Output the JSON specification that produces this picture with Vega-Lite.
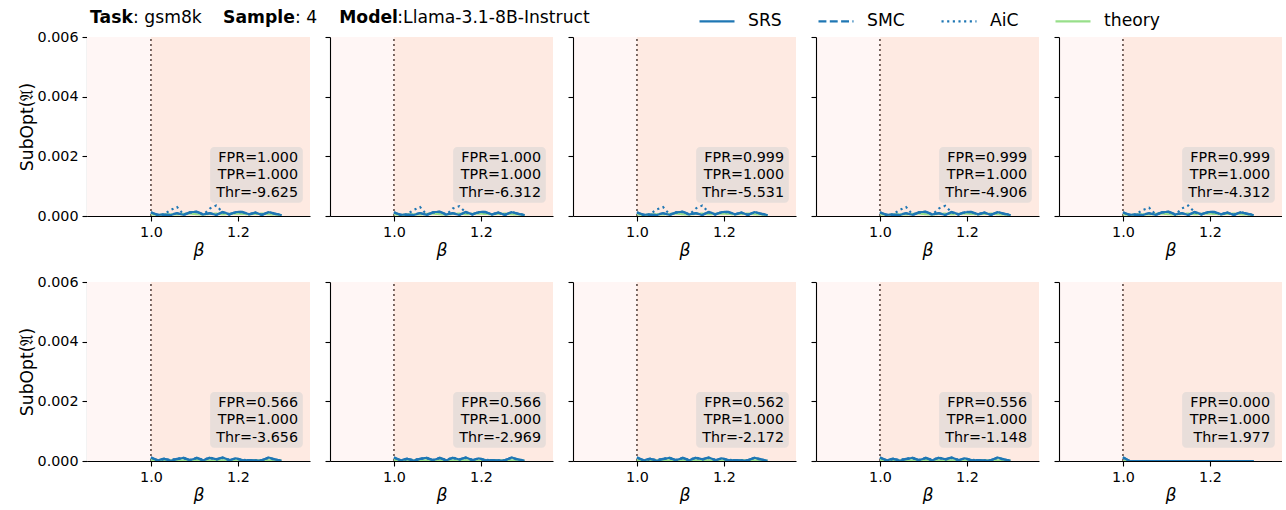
{
"$schema": "https://vega.github.io/schema/vega-lite/v6.json",
"background": "white",
"padding": {"left": 18, "top": 2, "right": 0, "bottom": 0},
"title": {"text": "Task\u2003\u2003\u2003\u2003\u2003\u2005Sample\u2003\u2003\u2005\u2006\u2006Model", "subtitle": "\u200b\u2003\u2003\u2005\u2005: gsm8k\u2003\u2003\u2003\u2003\u2003\u2005\u2006: 4\u2003\u2003\u2003\u2003\u2002\u2006:Llama-3.1-8B-Instruct", "anchor": "start", "dx": 72, "fontSize": 17.2, "fontWeight": "bold", "font": "DejaVu Sans", "color": "black", "subtitleFont": "DejaVu Sans", "subtitleFontSize": 17.2, "subtitleFontWeight": "normal", "subtitleColor": "black", "subtitlePadding": -17.2, "offset": -24},
"datasets": {"d": [
{"r":1,"c":1,"t":"FPR=1.000\nTPR=1.000\nThr=-9.625"},
{"r":1,"c":2,"t":"FPR=1.000\nTPR=1.000\nThr=-6.312"},
{"r":1,"c":3,"t":"FPR=0.999\nTPR=1.000\nThr=-5.531"},
{"r":1,"c":4,"t":"FPR=0.999\nTPR=1.000\nThr=-4.906"},
{"r":1,"c":5,"t":"FPR=0.999\nTPR=1.000\nThr=-4.312"},
{"r":2,"c":1,"t":"FPR=0.566\nTPR=1.000\nThr=-3.656"},
{"r":2,"c":2,"t":"FPR=0.566\nTPR=1.000\nThr=-2.969"},
{"r":2,"c":3,"t":"FPR=0.562\nTPR=1.000\nThr=-2.172"},
{"r":2,"c":4,"t":"FPR=0.556\nTPR=1.000\nThr=-1.148"},
{"r":2,"c":5,"t":"FPR=0.000\nTPR=1.000\nThr=1.977"},

{"r":1,"c":1,"b":1.0,"SRS":12e-5,"SMC":11e-5,"AiC":13e-5,"theory":6e-5},
{"r":1,"c":1,"b":1.015,"SRS":4e-5,"SMC":5e-5,"AiC":3e-5,"theory":3e-5},
{"r":1,"c":1,"b":1.03,"SRS":5e-5,"SMC":4e-5,"AiC":6e-5,"theory":5e-5},
{"r":1,"c":1,"b":1.045,"SRS":3e-5,"SMC":4e-5,"AiC":20e-5,"theory":6e-5},
{"r":1,"c":1,"b":1.06,"SRS":9e-5,"SMC":10e-5,"AiC":30e-5,"theory":5e-5},
{"r":1,"c":1,"b":1.075,"SRS":4e-5,"SMC":3e-5,"AiC":5e-5,"theory":7e-5},
{"r":1,"c":1,"b":1.09,"SRS":13e-5,"SMC":12e-5,"AiC":12e-5,"theory":8e-5},
{"r":1,"c":1,"b":1.105,"SRS":14e-5,"SMC":15e-5,"AiC":13e-5,"theory":6e-5},
{"r":1,"c":1,"b":1.12,"SRS":5e-5,"SMC":6e-5,"AiC":4e-5,"theory":5e-5},
{"r":1,"c":1,"b":1.135,"SRS":10e-5,"SMC":9e-5,"AiC":25e-5,"theory":7e-5},
{"r":1,"c":1,"b":1.15,"SRS":3e-5,"SMC":4e-5,"AiC":35e-5,"theory":8e-5},
{"r":1,"c":1,"b":1.165,"SRS":14e-5,"SMC":13e-5,"AiC":12e-5,"theory":6e-5},
{"r":1,"c":1,"b":1.18,"SRS":6e-5,"SMC":5e-5,"AiC":5e-5,"theory":7e-5},
{"r":1,"c":1,"b":1.195,"SRS":13e-5,"SMC":14e-5,"AiC":12e-5,"theory":8e-5},
{"r":1,"c":1,"b":1.21,"SRS":14e-5,"SMC":13e-5,"AiC":13e-5,"theory":7e-5},
{"r":1,"c":1,"b":1.225,"SRS":6e-5,"SMC":5e-5,"AiC":6e-5,"theory":6e-5},
{"r":1,"c":1,"b":1.24,"SRS":12e-5,"SMC":11e-5,"AiC":11e-5,"theory":7e-5},
{"r":1,"c":1,"b":1.255,"SRS":3e-5,"SMC":4e-5,"AiC":4e-5,"theory":8e-5},
{"r":1,"c":1,"b":1.27,"SRS":13e-5,"SMC":14e-5,"AiC":12e-5,"theory":6e-5},
{"r":1,"c":1,"b":1.285,"SRS":8e-5,"SMC":7e-5,"AiC":9e-5,"theory":5e-5},
{"r":1,"c":1,"b":1.3,"SRS":3e-5,"SMC":3e-5,"AiC":3e-5,"theory":3e-5},

{"r":1,"c":2,"b":1.0,"SRS":12e-5,"SMC":11e-5,"AiC":13e-5,"theory":6e-5},
{"r":1,"c":2,"b":1.015,"SRS":4e-5,"SMC":5e-5,"AiC":3e-5,"theory":3e-5},
{"r":1,"c":2,"b":1.03,"SRS":5e-5,"SMC":4e-5,"AiC":6e-5,"theory":5e-5},
{"r":1,"c":2,"b":1.045,"SRS":3e-5,"SMC":4e-5,"AiC":20e-5,"theory":6e-5},
{"r":1,"c":2,"b":1.06,"SRS":10e-5,"SMC":10e-5,"AiC":30e-5,"theory":5e-5},
{"r":1,"c":2,"b":1.075,"SRS":4e-5,"SMC":3e-5,"AiC":5e-5,"theory":7e-5},
{"r":1,"c":2,"b":1.09,"SRS":13e-5,"SMC":12e-5,"AiC":12e-5,"theory":8e-5},
{"r":1,"c":2,"b":1.105,"SRS":14e-5,"SMC":15e-5,"AiC":13e-5,"theory":6e-5},
{"r":1,"c":2,"b":1.12,"SRS":5e-5,"SMC":6e-5,"AiC":4e-5,"theory":5e-5},
{"r":1,"c":2,"b":1.135,"SRS":10e-5,"SMC":9e-5,"AiC":25e-5,"theory":7e-5},
{"r":1,"c":2,"b":1.15,"SRS":3e-5,"SMC":4e-5,"AiC":33e-5,"theory":8e-5},
{"r":1,"c":2,"b":1.165,"SRS":14e-5,"SMC":13e-5,"AiC":12e-5,"theory":6e-5},
{"r":1,"c":2,"b":1.18,"SRS":6e-5,"SMC":5e-5,"AiC":5e-5,"theory":7e-5},
{"r":1,"c":2,"b":1.195,"SRS":13e-5,"SMC":14e-5,"AiC":12e-5,"theory":8e-5},
{"r":1,"c":2,"b":1.21,"SRS":14e-5,"SMC":13e-5,"AiC":13e-5,"theory":7e-5},
{"r":1,"c":2,"b":1.225,"SRS":5e-5,"SMC":5e-5,"AiC":6e-5,"theory":6e-5},
{"r":1,"c":2,"b":1.24,"SRS":12e-5,"SMC":11e-5,"AiC":11e-5,"theory":7e-5},
{"r":1,"c":2,"b":1.255,"SRS":3e-5,"SMC":4e-5,"AiC":4e-5,"theory":8e-5},
{"r":1,"c":2,"b":1.27,"SRS":13e-5,"SMC":14e-5,"AiC":12e-5,"theory":6e-5},
{"r":1,"c":2,"b":1.285,"SRS":8e-5,"SMC":7e-5,"AiC":9e-5,"theory":5e-5},
{"r":1,"c":2,"b":1.3,"SRS":3e-5,"SMC":3e-5,"AiC":3e-5,"theory":3e-5},

{"r":1,"c":3,"b":1.0,"SRS":12e-5,"SMC":11e-5,"AiC":13e-5,"theory":6e-5},
{"r":1,"c":3,"b":1.015,"SRS":4e-5,"SMC":5e-5,"AiC":3e-5,"theory":3e-5},
{"r":1,"c":3,"b":1.03,"SRS":5e-5,"SMC":4e-5,"AiC":6e-5,"theory":5e-5},
{"r":1,"c":3,"b":1.045,"SRS":3e-5,"SMC":4e-5,"AiC":22e-5,"theory":6e-5},
{"r":1,"c":3,"b":1.06,"SRS":9e-5,"SMC":10e-5,"AiC":30e-5,"theory":5e-5},
{"r":1,"c":3,"b":1.075,"SRS":4e-5,"SMC":3e-5,"AiC":5e-5,"theory":7e-5},
{"r":1,"c":3,"b":1.09,"SRS":12e-5,"SMC":12e-5,"AiC":12e-5,"theory":8e-5},
{"r":1,"c":3,"b":1.105,"SRS":14e-5,"SMC":15e-5,"AiC":13e-5,"theory":6e-5},
{"r":1,"c":3,"b":1.12,"SRS":5e-5,"SMC":6e-5,"AiC":4e-5,"theory":5e-5},
{"r":1,"c":3,"b":1.135,"SRS":10e-5,"SMC":9e-5,"AiC":25e-5,"theory":7e-5},
{"r":1,"c":3,"b":1.15,"SRS":3e-5,"SMC":4e-5,"AiC":35e-5,"theory":8e-5},
{"r":1,"c":3,"b":1.165,"SRS":14e-5,"SMC":13e-5,"AiC":12e-5,"theory":6e-5},
{"r":1,"c":3,"b":1.18,"SRS":6e-5,"SMC":5e-5,"AiC":5e-5,"theory":7e-5},
{"r":1,"c":3,"b":1.195,"SRS":13e-5,"SMC":14e-5,"AiC":12e-5,"theory":8e-5},
{"r":1,"c":3,"b":1.21,"SRS":14e-5,"SMC":13e-5,"AiC":13e-5,"theory":7e-5},
{"r":1,"c":3,"b":1.225,"SRS":6e-5,"SMC":5e-5,"AiC":6e-5,"theory":6e-5},
{"r":1,"c":3,"b":1.24,"SRS":12e-5,"SMC":11e-5,"AiC":11e-5,"theory":7e-5},
{"r":1,"c":3,"b":1.255,"SRS":3e-5,"SMC":4e-5,"AiC":4e-5,"theory":8e-5},
{"r":1,"c":3,"b":1.27,"SRS":13e-5,"SMC":14e-5,"AiC":12e-5,"theory":6e-5},
{"r":1,"c":3,"b":1.285,"SRS":8e-5,"SMC":7e-5,"AiC":9e-5,"theory":5e-5},
{"r":1,"c":3,"b":1.3,"SRS":3e-5,"SMC":3e-5,"AiC":3e-5,"theory":3e-5},

{"r":1,"c":4,"b":1.0,"SRS":12e-5,"SMC":11e-5,"AiC":13e-5,"theory":6e-5},
{"r":1,"c":4,"b":1.015,"SRS":4e-5,"SMC":5e-5,"AiC":3e-5,"theory":3e-5},
{"r":1,"c":4,"b":1.03,"SRS":5e-5,"SMC":4e-5,"AiC":6e-5,"theory":5e-5},
{"r":1,"c":4,"b":1.045,"SRS":3e-5,"SMC":4e-5,"AiC":20e-5,"theory":6e-5},
{"r":1,"c":4,"b":1.06,"SRS":9e-5,"SMC":10e-5,"AiC":30e-5,"theory":5e-5},
{"r":1,"c":4,"b":1.075,"SRS":4e-5,"SMC":3e-5,"AiC":5e-5,"theory":7e-5},
{"r":1,"c":4,"b":1.09,"SRS":13e-5,"SMC":12e-5,"AiC":12e-5,"theory":8e-5},
{"r":1,"c":4,"b":1.105,"SRS":14e-5,"SMC":15e-5,"AiC":13e-5,"theory":6e-5},
{"r":1,"c":4,"b":1.12,"SRS":5e-5,"SMC":6e-5,"AiC":4e-5,"theory":5e-5},
{"r":1,"c":4,"b":1.135,"SRS":10e-5,"SMC":9e-5,"AiC":25e-5,"theory":7e-5},
{"r":1,"c":4,"b":1.15,"SRS":3e-5,"SMC":4e-5,"AiC":34e-5,"theory":8e-5},
{"r":1,"c":4,"b":1.165,"SRS":14e-5,"SMC":13e-5,"AiC":12e-5,"theory":6e-5},
{"r":1,"c":4,"b":1.18,"SRS":6e-5,"SMC":5e-5,"AiC":5e-5,"theory":7e-5},
{"r":1,"c":4,"b":1.195,"SRS":12e-5,"SMC":14e-5,"AiC":12e-5,"theory":8e-5},
{"r":1,"c":4,"b":1.21,"SRS":14e-5,"SMC":13e-5,"AiC":13e-5,"theory":7e-5},
{"r":1,"c":4,"b":1.225,"SRS":6e-5,"SMC":5e-5,"AiC":6e-5,"theory":6e-5},
{"r":1,"c":4,"b":1.24,"SRS":12e-5,"SMC":11e-5,"AiC":11e-5,"theory":7e-5},
{"r":1,"c":4,"b":1.255,"SRS":3e-5,"SMC":4e-5,"AiC":4e-5,"theory":8e-5},
{"r":1,"c":4,"b":1.27,"SRS":13e-5,"SMC":14e-5,"AiC":12e-5,"theory":6e-5},
{"r":1,"c":4,"b":1.285,"SRS":8e-5,"SMC":7e-5,"AiC":9e-5,"theory":5e-5},
{"r":1,"c":4,"b":1.3,"SRS":3e-5,"SMC":3e-5,"AiC":3e-5,"theory":3e-5},

{"r":1,"c":5,"b":1.0,"SRS":12e-5,"SMC":11e-5,"AiC":13e-5,"theory":6e-5},
{"r":1,"c":5,"b":1.015,"SRS":4e-5,"SMC":5e-5,"AiC":3e-5,"theory":3e-5},
{"r":1,"c":5,"b":1.03,"SRS":5e-5,"SMC":4e-5,"AiC":6e-5,"theory":5e-5},
{"r":1,"c":5,"b":1.045,"SRS":3e-5,"SMC":4e-5,"AiC":20e-5,"theory":6e-5},
{"r":1,"c":5,"b":1.06,"SRS":9e-5,"SMC":10e-5,"AiC":28e-5,"theory":5e-5},
{"r":1,"c":5,"b":1.075,"SRS":4e-5,"SMC":3e-5,"AiC":5e-5,"theory":7e-5},
{"r":1,"c":5,"b":1.09,"SRS":13e-5,"SMC":12e-5,"AiC":12e-5,"theory":8e-5},
{"r":1,"c":5,"b":1.105,"SRS":14e-5,"SMC":15e-5,"AiC":13e-5,"theory":6e-5},
{"r":1,"c":5,"b":1.12,"SRS":5e-5,"SMC":6e-5,"AiC":4e-5,"theory":5e-5},
{"r":1,"c":5,"b":1.135,"SRS":10e-5,"SMC":9e-5,"AiC":25e-5,"theory":7e-5},
{"r":1,"c":5,"b":1.15,"SRS":3e-5,"SMC":4e-5,"AiC":35e-5,"theory":8e-5},
{"r":1,"c":5,"b":1.165,"SRS":14e-5,"SMC":13e-5,"AiC":12e-5,"theory":6e-5},
{"r":1,"c":5,"b":1.18,"SRS":6e-5,"SMC":5e-5,"AiC":5e-5,"theory":7e-5},
{"r":1,"c":5,"b":1.195,"SRS":13e-5,"SMC":14e-5,"AiC":12e-5,"theory":8e-5},
{"r":1,"c":5,"b":1.21,"SRS":14e-5,"SMC":13e-5,"AiC":13e-5,"theory":7e-5},
{"r":1,"c":5,"b":1.225,"SRS":6e-5,"SMC":5e-5,"AiC":6e-5,"theory":6e-5},
{"r":1,"c":5,"b":1.24,"SRS":12e-5,"SMC":11e-5,"AiC":11e-5,"theory":7e-5},
{"r":1,"c":5,"b":1.255,"SRS":3e-5,"SMC":4e-5,"AiC":4e-5,"theory":8e-5},
{"r":1,"c":5,"b":1.27,"SRS":12e-5,"SMC":14e-5,"AiC":12e-5,"theory":6e-5},
{"r":1,"c":5,"b":1.285,"SRS":8e-5,"SMC":7e-5,"AiC":9e-5,"theory":5e-5},
{"r":1,"c":5,"b":1.3,"SRS":3e-5,"SMC":3e-5,"AiC":3e-5,"theory":3e-5},

{"r":2,"c":1,"b":1.0,"SRS":12e-5,"SMC":11e-5,"AiC":12e-5,"theory":3e-5},
{"r":2,"c":1,"b":1.015,"SRS":2e-5,"SMC":3e-5,"AiC":2e-5,"theory":2e-5},
{"r":2,"c":1,"b":1.03,"SRS":8e-5,"SMC":7e-5,"AiC":6e-5,"theory":2e-5},
{"r":2,"c":1,"b":1.045,"SRS":1e-5,"SMC":2e-5,"AiC":3e-5,"theory":2e-5},
{"r":2,"c":1,"b":1.06,"SRS":6e-5,"SMC":7e-5,"AiC":8e-5,"theory":3e-5},
{"r":2,"c":1,"b":1.075,"SRS":11e-5,"SMC":10e-5,"AiC":9e-5,"theory":2e-5},
{"r":2,"c":1,"b":1.09,"SRS":3e-5,"SMC":2e-5,"AiC":4e-5,"theory":2e-5},
{"r":2,"c":1,"b":1.105,"SRS":10e-5,"SMC":11e-5,"AiC":9e-5,"theory":3e-5},
{"r":2,"c":1,"b":1.12,"SRS":2e-5,"SMC":3e-5,"AiC":3e-5,"theory":2e-5},
{"r":2,"c":1,"b":1.135,"SRS":11e-5,"SMC":10e-5,"AiC":12e-5,"theory":2e-5},
{"r":2,"c":1,"b":1.15,"SRS":6e-5,"SMC":5e-5,"AiC":4e-5,"theory":3e-5},
{"r":2,"c":1,"b":1.165,"SRS":12e-5,"SMC":11e-5,"AiC":10e-5,"theory":2e-5},
{"r":2,"c":1,"b":1.18,"SRS":3e-5,"SMC":2e-5,"AiC":5e-5,"theory":2e-5},
{"r":2,"c":1,"b":1.195,"SRS":9e-5,"SMC":10e-5,"AiC":8e-5,"theory":2e-5},
{"r":2,"c":1,"b":1.21,"SRS":2e-5,"SMC":3e-5,"AiC":4e-5,"theory":2e-5},
{"r":2,"c":1,"b":1.225,"SRS":3e-5,"SMC":2e-5,"AiC":3e-5,"theory":2e-5},
{"r":2,"c":1,"b":1.24,"SRS":1e-5,"SMC":2e-5,"AiC":2e-5,"theory":2e-5},
{"r":2,"c":1,"b":1.255,"SRS":2e-5,"SMC":3e-5,"AiC":3e-5,"theory":2e-5},
{"r":2,"c":1,"b":1.27,"SRS":12e-5,"SMC":11e-5,"AiC":10e-5,"theory":2e-5},
{"r":2,"c":1,"b":1.285,"SRS":6e-5,"SMC":5e-5,"AiC":4e-5,"theory":2e-5},
{"r":2,"c":1,"b":1.3,"SRS":1e-5,"SMC":1e-5,"AiC":1e-5,"theory":1e-5},

{"r":2,"c":2,"b":1.0,"SRS":12e-5,"SMC":11e-5,"AiC":12e-5,"theory":3e-5},
{"r":2,"c":2,"b":1.015,"SRS":2e-5,"SMC":3e-5,"AiC":2e-5,"theory":2e-5},
{"r":2,"c":2,"b":1.03,"SRS":8e-5,"SMC":7e-5,"AiC":6e-5,"theory":2e-5},
{"r":2,"c":2,"b":1.045,"SRS":1e-5,"SMC":2e-5,"AiC":3e-5,"theory":2e-5},
{"r":2,"c":2,"b":1.06,"SRS":7e-5,"SMC":7e-5,"AiC":8e-5,"theory":3e-5},
{"r":2,"c":2,"b":1.075,"SRS":11e-5,"SMC":10e-5,"AiC":9e-5,"theory":2e-5},
{"r":2,"c":2,"b":1.09,"SRS":3e-5,"SMC":2e-5,"AiC":4e-5,"theory":2e-5},
{"r":2,"c":2,"b":1.105,"SRS":10e-5,"SMC":11e-5,"AiC":9e-5,"theory":3e-5},
{"r":2,"c":2,"b":1.12,"SRS":2e-5,"SMC":3e-5,"AiC":3e-5,"theory":2e-5},
{"r":2,"c":2,"b":1.135,"SRS":11e-5,"SMC":10e-5,"AiC":12e-5,"theory":2e-5},
{"r":2,"c":2,"b":1.15,"SRS":5e-5,"SMC":5e-5,"AiC":4e-5,"theory":3e-5},
{"r":2,"c":2,"b":1.165,"SRS":12e-5,"SMC":11e-5,"AiC":10e-5,"theory":2e-5},
{"r":2,"c":2,"b":1.18,"SRS":3e-5,"SMC":2e-5,"AiC":5e-5,"theory":2e-5},
{"r":2,"c":2,"b":1.195,"SRS":9e-5,"SMC":10e-5,"AiC":8e-5,"theory":2e-5},
{"r":2,"c":2,"b":1.21,"SRS":2e-5,"SMC":3e-5,"AiC":4e-5,"theory":2e-5},
{"r":2,"c":2,"b":1.225,"SRS":3e-5,"SMC":2e-5,"AiC":3e-5,"theory":2e-5},
{"r":2,"c":2,"b":1.24,"SRS":1e-5,"SMC":2e-5,"AiC":2e-5,"theory":2e-5},
{"r":2,"c":2,"b":1.255,"SRS":2e-5,"SMC":3e-5,"AiC":3e-5,"theory":2e-5},
{"r":2,"c":2,"b":1.27,"SRS":12e-5,"SMC":11e-5,"AiC":10e-5,"theory":2e-5},
{"r":2,"c":2,"b":1.285,"SRS":6e-5,"SMC":5e-5,"AiC":4e-5,"theory":2e-5},
{"r":2,"c":2,"b":1.3,"SRS":1e-5,"SMC":1e-5,"AiC":1e-5,"theory":1e-5},

{"r":2,"c":3,"b":1.0,"SRS":12e-5,"SMC":11e-5,"AiC":12e-5,"theory":3e-5},
{"r":2,"c":3,"b":1.015,"SRS":2e-5,"SMC":3e-5,"AiC":2e-5,"theory":2e-5},
{"r":2,"c":3,"b":1.03,"SRS":8e-5,"SMC":7e-5,"AiC":6e-5,"theory":2e-5},
{"r":2,"c":3,"b":1.045,"SRS":1e-5,"SMC":2e-5,"AiC":3e-5,"theory":2e-5},
{"r":2,"c":3,"b":1.06,"SRS":6e-5,"SMC":7e-5,"AiC":8e-5,"theory":3e-5},
{"r":2,"c":3,"b":1.075,"SRS":11e-5,"SMC":10e-5,"AiC":9e-5,"theory":2e-5},
{"r":2,"c":3,"b":1.09,"SRS":3e-5,"SMC":2e-5,"AiC":4e-5,"theory":2e-5},
{"r":2,"c":3,"b":1.105,"SRS":10e-5,"SMC":11e-5,"AiC":9e-5,"theory":3e-5},
{"r":2,"c":3,"b":1.12,"SRS":2e-5,"SMC":3e-5,"AiC":3e-5,"theory":2e-5},
{"r":2,"c":3,"b":1.135,"SRS":11e-5,"SMC":10e-5,"AiC":12e-5,"theory":2e-5},
{"r":2,"c":3,"b":1.15,"SRS":6e-5,"SMC":5e-5,"AiC":4e-5,"theory":3e-5},
{"r":2,"c":3,"b":1.165,"SRS":12e-5,"SMC":11e-5,"AiC":10e-5,"theory":2e-5},
{"r":2,"c":3,"b":1.18,"SRS":3e-5,"SMC":2e-5,"AiC":5e-5,"theory":2e-5},
{"r":2,"c":3,"b":1.195,"SRS":9e-5,"SMC":10e-5,"AiC":8e-5,"theory":2e-5},
{"r":2,"c":3,"b":1.21,"SRS":2e-5,"SMC":3e-5,"AiC":4e-5,"theory":2e-5},
{"r":2,"c":3,"b":1.225,"SRS":3e-5,"SMC":2e-5,"AiC":3e-5,"theory":2e-5},
{"r":2,"c":3,"b":1.24,"SRS":1e-5,"SMC":2e-5,"AiC":2e-5,"theory":2e-5},
{"r":2,"c":3,"b":1.255,"SRS":2e-5,"SMC":3e-5,"AiC":3e-5,"theory":2e-5},
{"r":2,"c":3,"b":1.27,"SRS":11e-5,"SMC":11e-5,"AiC":10e-5,"theory":2e-5},
{"r":2,"c":3,"b":1.285,"SRS":6e-5,"SMC":5e-5,"AiC":4e-5,"theory":2e-5},
{"r":2,"c":3,"b":1.3,"SRS":1e-5,"SMC":1e-5,"AiC":1e-5,"theory":1e-5},

{"r":2,"c":4,"b":1.0,"SRS":12e-5,"SMC":11e-5,"AiC":12e-5,"theory":3e-5},
{"r":2,"c":4,"b":1.015,"SRS":2e-5,"SMC":3e-5,"AiC":2e-5,"theory":2e-5},
{"r":2,"c":4,"b":1.03,"SRS":8e-5,"SMC":7e-5,"AiC":6e-5,"theory":2e-5},
{"r":2,"c":4,"b":1.045,"SRS":1e-5,"SMC":2e-5,"AiC":3e-5,"theory":2e-5},
{"r":2,"c":4,"b":1.06,"SRS":6e-5,"SMC":7e-5,"AiC":8e-5,"theory":3e-5},
{"r":2,"c":4,"b":1.075,"SRS":11e-5,"SMC":10e-5,"AiC":9e-5,"theory":2e-5},
{"r":2,"c":4,"b":1.09,"SRS":3e-5,"SMC":2e-5,"AiC":4e-5,"theory":2e-5},
{"r":2,"c":4,"b":1.105,"SRS":10e-5,"SMC":11e-5,"AiC":9e-5,"theory":3e-5},
{"r":2,"c":4,"b":1.12,"SRS":2e-5,"SMC":3e-5,"AiC":3e-5,"theory":2e-5},
{"r":2,"c":4,"b":1.135,"SRS":11e-5,"SMC":10e-5,"AiC":12e-5,"theory":2e-5},
{"r":2,"c":4,"b":1.15,"SRS":6e-5,"SMC":5e-5,"AiC":4e-5,"theory":3e-5},
{"r":2,"c":4,"b":1.165,"SRS":12e-5,"SMC":11e-5,"AiC":10e-5,"theory":2e-5},
{"r":2,"c":4,"b":1.18,"SRS":3e-5,"SMC":2e-5,"AiC":5e-5,"theory":2e-5},
{"r":2,"c":4,"b":1.195,"SRS":9e-5,"SMC":10e-5,"AiC":8e-5,"theory":2e-5},
{"r":2,"c":4,"b":1.21,"SRS":2e-5,"SMC":3e-5,"AiC":4e-5,"theory":2e-5},
{"r":2,"c":4,"b":1.225,"SRS":3e-5,"SMC":2e-5,"AiC":3e-5,"theory":2e-5},
{"r":2,"c":4,"b":1.24,"SRS":1e-5,"SMC":2e-5,"AiC":2e-5,"theory":2e-5},
{"r":2,"c":4,"b":1.255,"SRS":2e-5,"SMC":3e-5,"AiC":3e-5,"theory":2e-5},
{"r":2,"c":4,"b":1.27,"SRS":12e-5,"SMC":11e-5,"AiC":10e-5,"theory":2e-5},
{"r":2,"c":4,"b":1.285,"SRS":6e-5,"SMC":5e-5,"AiC":4e-5,"theory":2e-5},
{"r":2,"c":4,"b":1.3,"SRS":1e-5,"SMC":1e-5,"AiC":1e-5,"theory":1e-5},

{"r":2,"c":5,"b":1.0,"SRS":13e-5,"SMC":12e-5,"AiC":11e-5,"theory":1e-5},
{"r":2,"c":5,"b":1.015,"SRS":0,"SMC":0,"AiC":0,"theory":0},
{"r":2,"c":5,"b":1.03,"SRS":0,"SMC":0,"AiC":0,"theory":0},
{"r":2,"c":5,"b":1.045,"SRS":0,"SMC":0,"AiC":0,"theory":0},
{"r":2,"c":5,"b":1.06,"SRS":0,"SMC":0,"AiC":0,"theory":0},
{"r":2,"c":5,"b":1.075,"SRS":0,"SMC":0,"AiC":0,"theory":0},
{"r":2,"c":5,"b":1.09,"SRS":0,"SMC":0,"AiC":0,"theory":0},
{"r":2,"c":5,"b":1.105,"SRS":0,"SMC":0,"AiC":0,"theory":0},
{"r":2,"c":5,"b":1.12,"SRS":0,"SMC":0,"AiC":0,"theory":0},
{"r":2,"c":5,"b":1.135,"SRS":0,"SMC":0,"AiC":0,"theory":0},
{"r":2,"c":5,"b":1.15,"SRS":0,"SMC":0,"AiC":0,"theory":0},
{"r":2,"c":5,"b":1.165,"SRS":0,"SMC":0,"AiC":0,"theory":0},
{"r":2,"c":5,"b":1.18,"SRS":0,"SMC":0,"AiC":0,"theory":0},
{"r":2,"c":5,"b":1.195,"SRS":0,"SMC":0,"AiC":0,"theory":0},
{"r":2,"c":5,"b":1.21,"SRS":0,"SMC":0,"AiC":0,"theory":0},
{"r":2,"c":5,"b":1.225,"SRS":0,"SMC":0,"AiC":0,"theory":0},
{"r":2,"c":5,"b":1.24,"SRS":0,"SMC":0,"AiC":0,"theory":0},
{"r":2,"c":5,"b":1.255,"SRS":0,"SMC":0,"AiC":0,"theory":0},
{"r":2,"c":5,"b":1.27,"SRS":0,"SMC":0,"AiC":0,"theory":0},
{"r":2,"c":5,"b":1.285,"SRS":0,"SMC":0,"AiC":0,"theory":0},
{"r":2,"c":5,"b":1.3,"SRS":0,"SMC":0,"AiC":0,"theory":0}
]},
"hconcat": [
{
 "data": {"name": "d"},
 "transform": [{"filter": "datum.c == 1"}],
 "facet": {"row": {"field": "r", "type": "ordinal", "header": {"labels": false, "title": null}}},
 "spacing": {"row": 22},
 "resolve": {"axis": {"x": "independent"}},
 "spec": {
  "width": 223, "height": 179,
  "layer": [
   {"transform": [{"filter": "isValid(datum.t)"}], "mark": {"type": "rect", "color": "#feeae2", "clip": true},
    "encoding": {"x": {"datum": 1.0, "type": "quantitative", "scale": {"domain": [0.853, 1.3655], "nice": false, "zero": false}, "axis": {"values": [1.0, 1.2], "format": ".1f", "title": "β", "titleFontStyle": "italic", "titleFontSize": 17.2, "titlePadding": 2}},
     "x2": {"datum": 1.3655},
     "y": {"datum": 0, "type": "quantitative", "scale": {"domain": [0, 0.006], "nice": false}, "axis": {"values": [0, 0.002, 0.004, 0.006], "format": ".3f", "title": "SubOpt(𝔄)", "titleFontSize": 17.2, "titlePadding": 1}},
     "y2": {"datum": 0.006}}},
   {"transform": [{"filter": "isValid(datum.t)"}], "mark": {"type": "rect", "color": "#e8deda", "cornerRadius": 4},
    "encoding": {"x": {"datum": 1.136, "type": "quantitative"}, "x2": {"datum": 1.349}, "y": {"datum": 0.00044, "type": "quantitative"}, "y2": {"datum": 0.00231}}},
   {"transform": [{"filter": "isValid(datum.t)"}], "mark": {"type": "rule", "color": "#5c4843", "strokeDash": [2, 3], "strokeWidth": 1.6},
    "encoding": {"x": {"datum": 1.0, "type": "quantitative"}, "y": {"datum": 0, "type": "quantitative"}, "y2": {"datum": 0.006}}},
   {"transform": [{"filter": "isValid(datum.b)"}, {"fold": ["theory", "SRS", "SMC", "AiC"], "as": ["m", "v"]}],
    "mark": {"type": "line", "strokeWidth": 2.15, "clip": true},
    "encoding": {"x": {"field": "b", "type": "quantitative"}, "y": {"field": "v", "type": "quantitative"},
     "color": {"field": "m", "type": "nominal", "scale": {"domain": ["SRS", "SMC", "AiC", "theory"], "range": ["#1f77b4", "#1f77b4", "#1f77b4", "#98df8a"]},
      "legend": {"title": null, "orient": "none", "direction": "horizontal", "legendX": 611, "legendY": -35, "symbolType": "stroke", "symbolSize": 1225, "symbolStrokeWidth": 2.15, "labelFontSize": 17.2, "labelFont": "DejaVu Sans", "labelColor": "black", "labelOffset": 12, "columnPadding": 32}},
     "strokeDash": {"field": "m", "type": "nominal", "scale": {"domain": ["SRS", "SMC", "AiC", "theory"], "range": [[1, 0], [7.9, 3.4], [2.15, 3.5], [1, 0]]},
      "legend": {"title": null, "orient": "none", "direction": "horizontal", "legendX": 611, "legendY": -35, "symbolType": "stroke", "symbolSize": 1225, "symbolStrokeWidth": 2.15, "labelFontSize": 17.2, "labelFont": "DejaVu Sans", "labelColor": "black", "labelOffset": 12, "columnPadding": 32}}}},
   {"transform": [{"filter": "isValid(datum.t)"}], "mark": {"type": "text", "align": "right", "baseline": "middle", "fontSize": 14.3, "lineHeight": 17.2, "lineBreak": "\n", "font": "DejaVu Sans", "color": "black"},
    "encoding": {"x": {"datum": 1.338, "type": "quantitative"}, "y": {"datum": 0.00194, "type": "quantitative"}, "text": {"field": "t"}}}
  ]
 }
},
{
 "data": {"name": "d"},
 "transform": [{"filter": "datum.c > 1"}],
 "facet": {"row": {"field": "r", "type": "ordinal", "header": {"labels": false, "title": null}}, "column": {"field": "c", "type": "ordinal", "header": {"labels": false, "title": null}}},
 "spacing": {"row": 22, "column": 14},
 "resolve": {"axis": {"x": "independent", "y": "independent"}},
 "spec": {
  "width": 223, "height": 179,
  "layer": [
   {"transform": [{"filter": "isValid(datum.t)"}], "mark": {"type": "rect", "color": "#feeae2", "clip": true},
    "encoding": {"x": {"datum": 1.0, "type": "quantitative", "scale": {"domain": [0.853, 1.3655], "nice": false, "zero": false}, "axis": {"values": [1.0, 1.2], "format": ".1f", "title": "β", "titleFontStyle": "italic", "titleFontSize": 17.2, "titlePadding": 2}},
     "x2": {"datum": 1.3655},
     "y": {"datum": 0, "type": "quantitative", "scale": {"domain": [0, 0.006], "nice": false}, "axis": {"values": [0, 0.002, 0.004, 0.006], "labels": false, "title": null}},
     "y2": {"datum": 0.006}}},
   {"transform": [{"filter": "isValid(datum.t)"}], "mark": {"type": "rect", "color": "#e8deda", "cornerRadius": 4},
    "encoding": {"x": {"datum": 1.136, "type": "quantitative"}, "x2": {"datum": 1.349}, "y": {"datum": 0.00044, "type": "quantitative"}, "y2": {"datum": 0.00231}}},
   {"transform": [{"filter": "isValid(datum.t)"}], "mark": {"type": "rule", "color": "#5c4843", "strokeDash": [2, 3], "strokeWidth": 1.6},
    "encoding": {"x": {"datum": 1.0, "type": "quantitative"}, "y": {"datum": 0, "type": "quantitative"}, "y2": {"datum": 0.006}}},
   {"transform": [{"filter": "isValid(datum.b)"}, {"fold": ["theory", "SRS", "SMC", "AiC"], "as": ["m", "v"]}],
    "mark": {"type": "line", "strokeWidth": 2.15, "clip": true},
    "encoding": {"x": {"field": "b", "type": "quantitative"}, "y": {"field": "v", "type": "quantitative"},
     "color": {"field": "m", "type": "nominal", "scale": {"domain": ["SRS", "SMC", "AiC", "theory"], "range": ["#1f77b4", "#1f77b4", "#1f77b4", "#98df8a"]},
      "legend": {"title": null, "orient": "none", "direction": "horizontal", "legendX": 611, "legendY": -35, "symbolType": "stroke", "symbolSize": 1225, "symbolStrokeWidth": 2.15, "labelFontSize": 17.2, "labelFont": "DejaVu Sans", "labelColor": "black", "labelOffset": 12, "columnPadding": 32}},
     "strokeDash": {"field": "m", "type": "nominal", "scale": {"domain": ["SRS", "SMC", "AiC", "theory"], "range": [[1, 0], [7.9, 3.4], [2.15, 3.5], [1, 0]]},
      "legend": {"title": null, "orient": "none", "direction": "horizontal", "legendX": 611, "legendY": -35, "symbolType": "stroke", "symbolSize": 1225, "symbolStrokeWidth": 2.15, "labelFontSize": 17.2, "labelFont": "DejaVu Sans", "labelColor": "black", "labelOffset": 12, "columnPadding": 32}}}},
   {"transform": [{"filter": "isValid(datum.t)"}], "mark": {"type": "text", "align": "right", "baseline": "middle", "fontSize": 14.3, "lineHeight": 17.2, "lineBreak": "\n", "font": "DejaVu Sans", "color": "black"},
    "encoding": {"x": {"datum": 1.338, "type": "quantitative"}, "y": {"datum": 0.00194, "type": "quantitative"}, "text": {"field": "t"}}}
  ]
 }
}
],
"spacing": 14,
"config": {
 "font": "DejaVu Sans",
 "view": {"stroke": null, "fill": "#fff6f5"},
 "axis": {"labelFont": "DejaVu Sans", "labelFontSize": 14.3, "labelColor": "black", "tickColor": "black", "domainColor": "black", "domainWidth": 1.1, "tickWidth": 1.1, "tickSize": 5, "labelPadding": 4, "grid": false, "titleFont": "DejaVu Sans", "titleFontWeight": "normal", "titleColor": "black", "zindex": 1, "labelFlush": false, "labelOverlap": false}
}
}
